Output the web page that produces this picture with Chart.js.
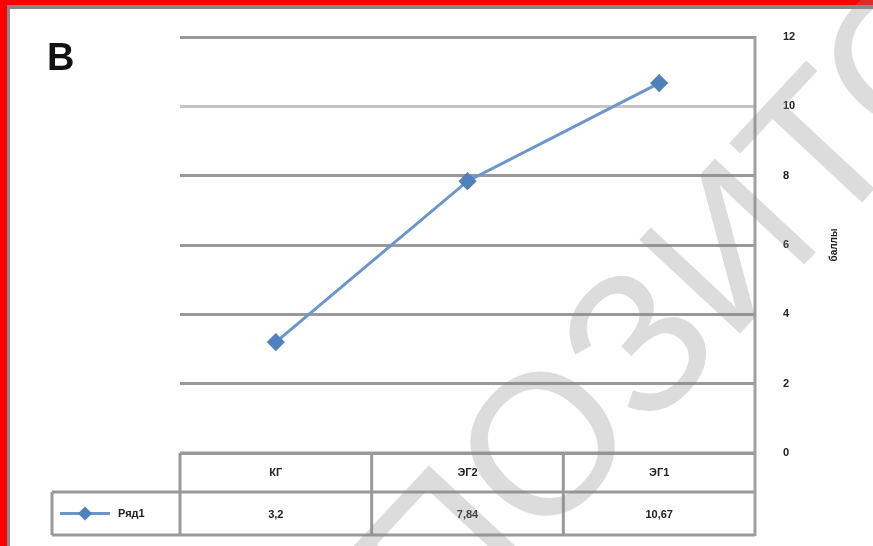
<!DOCTYPE html>
<html>
<head>
<meta charset="utf-8">
<script src="https://cdn.jsdelivr.net/npm/chart.js@4/dist/chart.umd.min.js"></script>
<style>
  html, body { margin: 0; padding: 0; background: #fff; }
  #wrap { width: 873px; height: 546px; position: relative; }
</style>
</head>
<body>
<div id="wrap"><canvas id="chart" width="873" height="546"></canvas></div>
<script>
// data
const categories = ["КГ", "ЭГ2", "ЭГ1"];
const seriesName = "Ряд1";
const seriesValues = [3.2, 7.84, 10.67];
const valueLabels = ["3,2", "7,84", "10,67"];
const yTicks = [0, 2, 4, 6, 8, 10, 12];
const panelLetter = "В";
const yTitle = "баллы";
const watermark = "РЕПОЗИТОРИЙ";

const LINE = "#6a95cd";
const MARK = "#4f81bd";
const GRID = "#999999";
const TEXT_FONT = "bold 11px 'Liberation Sans', Arial, sans-serif";

// frame, data table under the plot, letter and watermark
const extras = {
  id: "extras",
  beforeDraw(chart) {
    const ctx = chart.ctx;
    ctx.save();
    ctx.fillStyle = "#ff0000";
    ctx.fillRect(0, 0, chart.width, 5);
    ctx.fillRect(0, 0, 7, chart.height);
    ctx.fillStyle = "#888888";
    ctx.fillRect(7, 5, chart.width - 7, 4);
    ctx.fillRect(7, 5, 3, chart.height - 5);
    ctx.restore();
  },
  afterDraw(chart) {
    const ctx = chart.ctx;
    const xs = chart.scales.x;
    const area = chart.chartArea;
    const row1 = area.bottom;
    const row2 = row1 + 39;
    const row3 = row2 + 43;
    const legendLeft = 52;
    const colW = (area.right - area.left) / categories.length;

    ctx.save();
    ctx.strokeStyle = GRID;
    ctx.lineWidth = 3;
    const hline = (x0, x1, y) => { ctx.beginPath(); ctx.moveTo(x0, y); ctx.lineTo(x1, y); ctx.stroke(); };
    const vline = (x, y0, y1) => { ctx.beginPath(); ctx.moveTo(x, y0); ctx.lineTo(x, y1); ctx.stroke(); };

    hline(area.left, area.right, row1);
    hline(legendLeft, area.right, row2);
    hline(legendLeft, area.right, row3);
    vline(legendLeft, row2, row3);
    for (let i = 0; i < categories.length; i++) {
      vline(area.left + i * colW, row1, row3);
    }
    ctx.strokeStyle = "#a0a0a0";
    vline(area.right, area.top - 1, row3 + 1);

    // table text
    ctx.fillStyle = "#222";
    ctx.font = TEXT_FONT;
    ctx.textAlign = "center";
    ctx.textBaseline = "middle";
    categories.forEach((c, i) => {
      const cx = xs.getPixelForValue(i);
      ctx.fillText(c, cx, (row1 + row2) / 2);
      ctx.fillText(valueLabels[i], cx, (row2 + row3) / 2 + 1);
    });

    // legend key
    const ly = (row2 + row3) / 2;
    ctx.strokeStyle = LINE;
    ctx.lineWidth = 3;
    hline(60, 110, ly);
    ctx.fillStyle = MARK;
    ctx.beginPath();
    ctx.moveTo(85, ly - 7); ctx.lineTo(92, ly); ctx.lineTo(85, ly + 7); ctx.lineTo(78, ly);
    ctx.closePath();
    ctx.fill();
    ctx.fillStyle = "#222";
    ctx.textAlign = "left";
    ctx.fillText(seriesName, 118, ly);

    // y axis title
    ctx.save();
    ctx.translate(834, 245);
    ctx.rotate(-Math.PI / 2);
    ctx.textAlign = "center";
    ctx.font = "bold 10px 'Liberation Sans', Arial, sans-serif";
    ctx.fillText(yTitle, 0, 0);
    ctx.restore();

    // panel letter
    ctx.font = "bold 38px 'Liberation Sans', Arial, sans-serif";
    ctx.textBaseline = "alphabetic";
    ctx.fillStyle = "#111";
    ctx.fillText(panelLetter, 47, 70);

    // watermark
    ctx.font = "200px 'Liberation Sans', Arial, sans-serif";
    ctx.fillStyle = "rgba(140,140,140,0.3)";
    ctx.textBaseline = "middle";
    ctx.translate(553, 453);
    ctx.rotate(-47 * Math.PI / 180);
    const pre = ctx.measureText(watermark.slice(0, 3)).width;
    const oW = ctx.measureText(watermark[3]).width;
    ctx.fillText(watermark, -(pre + oW / 2), 0);
    ctx.restore();
  }
};

new Chart(document.getElementById("chart"), {
  type: "line",
  data: {
    labels: categories,
    datasets: [{
      label: seriesName,
      data: seriesValues,
      borderColor: LINE,
      borderWidth: 3,
      backgroundColor: MARK,
      pointStyle: "rectRot",
      pointRadius: 7,
      pointBorderColor: MARK,
      pointBackgroundColor: MARK,
      tension: 0
    }]
  },
  options: {
    responsive: false,
    animation: false,
    layout: { padding: { top: 37, left: 180, right: 0, bottom: 93 } },
    plugins: { legend: { display: false }, tooltip: { enabled: false } },
    scales: {
      x: { type: "category", display: false, offset: true },
      y: {
        position: "right",
        min: 0,
        max: 12,
        afterBuildTicks(scale) { scale.ticks = yTicks.map(v => ({ value: v })); },
        afterFit(scale) { scale.width = 118; },
        border: { display: false },
        grid: {
          drawTicks: false,
          lineWidth: 3,
          color: (c) => (c.tick && c.tick.value === 10 ? "#c4c4c4" : GRID)
        },
        ticks: {
          padding: 28,
          color: "#222",
          font: { family: "'Liberation Sans', Arial, sans-serif", size: 11, weight: "bold" }
        }
      }
    }
  },
  plugins: [extras]
});
</script>
</body>
</html>
